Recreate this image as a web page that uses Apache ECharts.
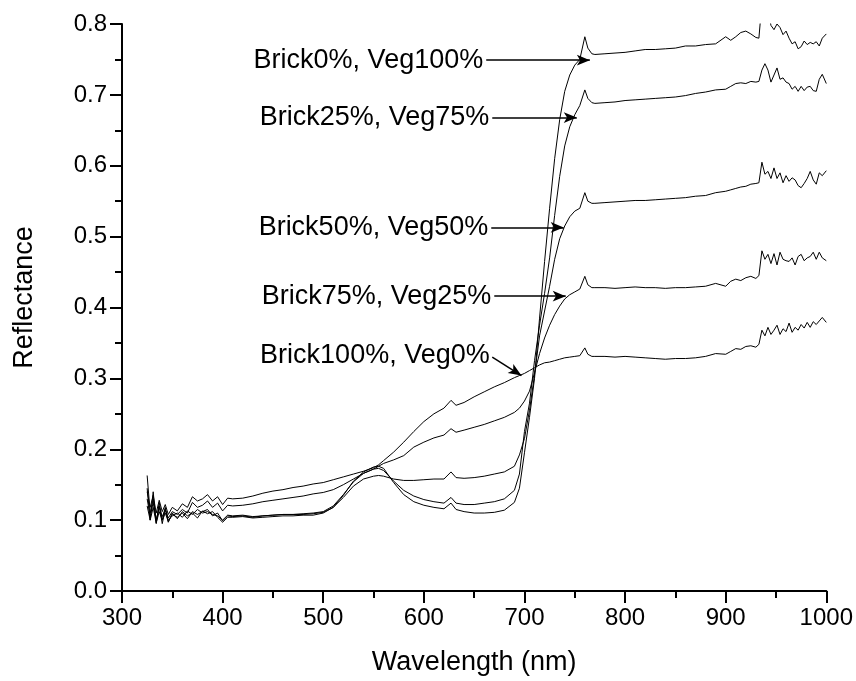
<!DOCTYPE html>
<html>
<head>
<meta charset="utf-8">
<script src="https://cdn.jsdelivr.net/npm/echarts@6/dist/echarts.min.js"></script>
<style>
html,body{margin:0;padding:0;background:#fff;}
#chart{width:856px;height:681px;}
</style>
</head>
<body>
<div id="chart"></div>
<script>
// Wavelength grid (nm)
const wavelength = [
  325,328,331,334,337,340,343,346,350,355,
  360,365,370,375,380,385,390,395,400,405,
  410,420,430,440,450,460,470,480,490,500,
  510,520,530,540,550,555,560,570,580,590,
  600,610,620,627,632,640,650,660,670,680,
  690,695,700,705,710,715,720,725,730,735,
  740,745,750,755,760,763,767,770,780,790,
  800,810,820,830,840,850,860,870,880,890,
  900,905,910,915,920,925,930,933,936,939,
  942,945,948,951,954,957,960,963,966,969,
  972,975,978,981,984,987,990,993,996,1000
];
// Brick0%, Veg100%
const veg100 = [
  .145,.100,.140,.095,.125,.100,.118,.097,.110,.102,
  .112,.106,.110,.103,.113,.109,.112,.104,.097,.104,
  .104,.105,.103,.104,.105,.106,.106,.107,.107,.110,
  .118,.135,.155,.168,.175,.176,.173,.153,.136,.126,
  .121,.118,.116,.124,.115,.112,.110,.110,.111,.114,
  .125,.145,.195,.245,.300,.385,.465,.540,.610,.665,
  .705,.728,.742,.750,.782,.766,.758,.757,.758,.759,
  .760,.762,.764,.764,.765,.766,.769,.769,.771,.772,
  .782,.777,.782,.788,.790,.786,.781,.780,.830,.840,
  .820,.798,.792,.800,.795,.785,.790,.780,.772,.775,
  .765,.768,.776,.771,.774,.772,.775,.769,.780,.786
];
// Brick25%, Veg75%
const veg75 = [
  .163,.110,.130,.098,.120,.095,.115,.100,.106,.110,
  .104,.113,.108,.115,.110,.112,.108,.106,.100,.107,
  .106,.107,.105,.106,.107,.108,.108,.109,.110,.112,
  .120,.136,.154,.166,.172,.173,.170,.155,.142,.134,
  .129,.126,.124,.132,.124,.122,.122,.124,.126,.130,
  .142,.165,.225,.265,.325,.375,.420,.470,.530,.585,
  .628,.655,.672,.685,.707,.695,.689,.688,.689,.690,
  .692,.693,.694,.695,.696,.697,.699,.702,.704,.707,
  .708,.712,.716,.717,.716,.719,.718,.719,.735,.744,
  .735,.718,.728,.738,.722,.724,.718,.716,.708,.712,
  .705,.712,.706,.711,.712,.706,.705,.722,.729,.716
];
// Brick50%, Veg50%
const veg50 = [
  .120,.100,.118,.096,.112,.100,.110,.098,.108,.104,
  .110,.102,.112,.108,.112,.115,.106,.110,.099,.106,
  .105,.106,.104,.106,.107,.108,.108,.108,.109,.111,
  .118,.132,.148,.158,.162,.163,.162,.158,.156,.156,
  .157,.158,.158,.168,.160,.159,.160,.162,.165,.168,
  .176,.192,.215,.255,.305,.360,.395,.430,.468,.497,
  .515,.528,.536,.540,.562,.550,.547,.547,.548,.549,
  .550,.551,.551,.552,.553,.554,.555,.557,.558,.562,
  .564,.566,.568,.570,.571,.574,.575,.576,.605,.588,
  .592,.582,.597,.582,.590,.576,.586,.578,.583,.580,
  .572,.569,.575,.582,.592,.580,.574,.590,.586,.593
];
// Brick75%, Veg25%
const veg25 = [
  .130,.105,.125,.100,.118,.105,.115,.103,.112,.108,
  .115,.110,.125,.118,.121,.127,.118,.124,.113,.121,
  .120,.121,.123,.126,.128,.130,.132,.134,.137,.139,
  .143,.150,.158,.166,.172,.176,.180,.185,.191,.203,
  .210,.216,.220,.229,.224,.227,.231,.235,.240,.245,
  .252,.258,.268,.282,.308,.335,.357,.375,.390,.402,
  .412,.418,.422,.426,.444,.432,.428,.428,.428,.427,
  .428,.429,.428,.428,.427,.428,.428,.429,.430,.434,
  .430,.437,.440,.438,.442,.444,.441,.445,.480,.468,
  .475,.462,.476,.460,.478,.468,.466,.465,.470,.460,
  .472,.475,.466,.470,.472,.478,.468,.478,.470,.466
];
// Brick100%, Veg0%
const veg0 = [
  .140,.118,.135,.110,.128,.112,.122,.108,.118,.113,
  .123,.118,.133,.127,.130,.136,.127,.133,.122,.131,
  .130,.131,.134,.138,.141,.143,.146,.148,.151,.153,
  .157,.161,.165,.169,.174,.178,.184,.196,.210,.225,
  .239,.250,.258,.269,.262,.266,.274,.281,.288,.294,
  .301,.304,.307,.311,.315,.319,.322,.323,.325,.327,
  .329,.330,.331,.332,.343,.334,.331,.331,.331,.330,
  .331,.330,.329,.328,.327,.328,.328,.329,.331,.335,
  .334,.338,.342,.341,.345,.346,.344,.348,.368,.360,
  .372,.362,.368,.375,.362,.370,.366,.378,.365,.372,
  .368,.376,.371,.379,.372,.380,.376,.381,.386,.379
];

const seriesNames = ['Brick0%, Veg100%','Brick25%, Veg75%','Brick50%, Veg50%','Brick75%, Veg25%','Brick100%, Veg0%'];
const seriesValues = [veg100, veg75, veg50, veg25, veg0];
// annotation arrows in data coordinates [wavelength, reflectance]
const arrowFrom = [[662,0.749],[668,0.668],[667,0.513],[670,0.416],[668,0.330]];
const arrowTo   = [[765,0.749],[752,0.668],[739,0.513],[741,0.416],[697,0.304]];

const xTicks = {min:300, max:1000, interval:100};
const yTicks = {min:0, max:0.8, interval:0.1};

const FONT = "'Liberation Sans', Arial, Helvetica, sans-serif";

const chart = echarts.init(document.getElementById('chart'), null, {renderer:'canvas'});

const series = seriesValues.map((vals, k) => ({
  name: seriesNames[k],
  type: 'line',
  data: wavelength.map((w, i) => [w, vals[i]]),
  symbol: 'none',
  clip: true,
  lineStyle: {color:'#000', width:1},
  itemStyle: {color:'#000'},
  emphasis: {disabled:true},
  z: 2,
  markLine: {
    silent: true,
    animation: false,
    symbol: ['none','arrow'],
    symbolSize: [8, 13],
    lineStyle: {color:'#000', width:1.5, type:'solid'},
    label: {
      show: true,
      position: 'start',
      distance: 3,
      formatter: seriesNames[k],
      color: '#000',
      fontSize: 27,
      fontFamily: FONT
    },
    emphasis: {disabled:true},
    data: [[{coord: arrowFrom[k]}, {coord: arrowTo[k]}]]
  }
}));

const axisCommon = {
  axisLine: {show:true, lineStyle:{color:'#000', width:2}},
  axisTick: {show:true, inside:false, length:12, lineStyle:{color:'#000', width:2}},
  minorTick: {show:true, splitNumber:2, length:7, lineStyle:{color:'#000', width:2}},
  splitLine: {show:false},
  minorSplitLine: {show:false}
};

chart.setOption({
  animation: false,
  backgroundColor: '#fff',
  grid: {left:122, right:28, top:24, bottom:88, containLabel:false},
  xAxis: Object.assign({
    type:'value',
    min:xTicks.min, max:xTicks.max, interval:xTicks.interval,
    name:'Wavelength (nm)',
    nameLocation:'middle',
    nameGap:58,
    nameTextStyle:{color:'#000', fontSize:27, fontFamily:FONT},
    axisLabel:{color:'#000', fontSize:24, fontFamily:FONT, margin:15,
      formatter: v => String(v)}
  }, axisCommon),
  yAxis: Object.assign({
    type:'value',
    min:yTicks.min, max:yTicks.max, interval:yTicks.interval,
    name:'Reflectance',
    nameLocation:'middle',
    nameGap:84,
    nameRotate:90,
    nameTextStyle:{color:'#000', fontSize:27, fontFamily:FONT, padding:[0,0,0,20]},
    axisLabel:{color:'#000', fontSize:24, fontFamily:FONT, margin:15,
      formatter: v => v.toFixed(1)}
  }, axisCommon),
  series: series
});
</script>
</body>
</html>
